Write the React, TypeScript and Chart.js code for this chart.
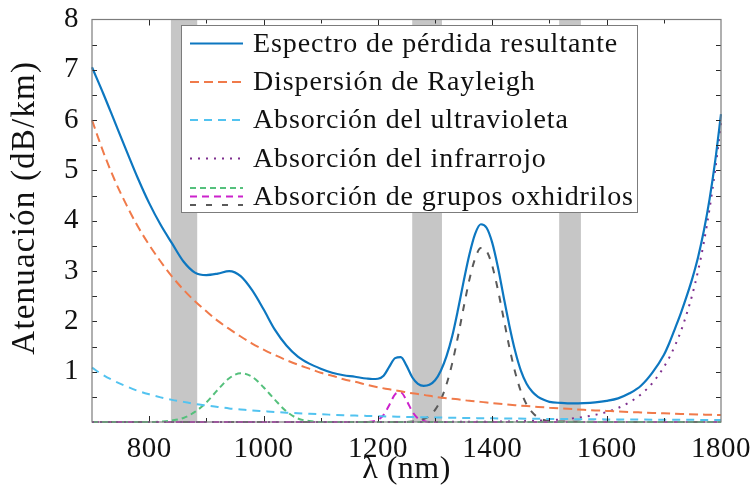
import React, { useEffect, useRef } from 'react';
import { Chart, registerables } from 'chart.js';

Chart.register(...registerables);

const FONT = '"Liberation Serif", "DejaVu Serif", serif';

// Wavelength grid (nm) used by the smooth components
const lambda20 = [700,720,740,760,780,800,820,840,860,880,900,920,940,960,980,1000,1020,1040,1060,1080,1100,1120,1140,1160,1180,1200,1220,1240,1260,1280,1300,1320,1340,1360,1380,1400,1420,1440,1460,1480,1500,1520,1540,1560,1580,1600,1620,1640,1660,1680,1700,1720,1740,1760,1780,1800];

const rayleigh = [6.00,5.36,4.80,4.32,3.89,3.52,3.19,2.89,2.63,2.40,2.20,2.01,1.85,1.70,1.56,1.44,1.33,1.23,1.14,1.06,0.98,0.92,0.85,0.80,0.74,0.69,0.65,0.61,0.57,0.54,0.50,0.47,0.45,0.42,0.40,0.375,0.354,0.335,0.317,0.300,0.285,0.270,0.256,0.243,0.231,0.220,0.209,0.199,0.190,0.181,0.172,0.165,0.157,0.150,0.144,0.137];

const ultraviolet = [1.08,0.93,0.81,0.71,0.62,0.55,0.49,0.44,0.40,0.36,0.33,0.30,0.27,0.25,0.23,0.215,0.200,0.186,0.174,0.163,0.153,0.144,0.135,0.128,0.121,0.115,0.109,0.104,0.099,0.094,0.090,0.086,0.083,0.079,0.076,0.073,0.071,0.068,0.066,0.063,0.061,0.059,0.057,0.056,0.054,0.052,0.051,0.049,0.048,0.047,0.046,0.044,0.043,0.042,0.041,0.040];

const irLambda = [700,1300,1400,1440,1480,1500,1520,1540,1560,1580,1600,1620,1640,1660,1680,1700,1710,1720,1730,1740,1750,1760,1770,1780,1790,1800];
const infrared = [0,0.002,0.007,0.013,0.026,0.036,0.051,0.072,0.101,0.141,0.199,0.279,0.392,0.551,0.774,1.09,1.29,1.53,1.81,2.15,2.54,3.01,3.57,4.24,5.02,5.95];

const ohGreenLambda = [700,800,820,840,860,880,900,920,940,960,980,1000,1020,1040,1060,1080,1100,1800];
const ohGreen = [0,0,0.01,0.03,0.08,0.20,0.39,0.64,0.87,0.97,0.90,0.69,0.44,0.21,0.07,0.02,0,0];

const ohMagentaLambda = [700,1180,1190,1200,1210,1220,1230,1240,1250,1260,1270,1280,1290,1800];
const ohMagenta = [0,0,0.01,0.04,0.14,0.34,0.55,0.59,0.43,0.21,0.07,0.02,0,0];

const ohGrayLambda = [700,1250,1260,1270,1280,1290,1300,1310,1320,1330,1340,1350,1360,1370,1380,1390,1400,1410,1420,1430,1440,1450,1460,1470,1480,1490,1500,1510,1800];
const ohGray = [0,0,0.01,0.03,0.06,0.12,0.24,0.44,0.75,1.17,1.70,2.28,2.83,3.25,3.46,3.40,3.10,2.62,2.05,1.48,0.99,0.61,0.35,0.19,0.09,0.04,0.02,0.01,0];

const totalLambda = [700,720,740,760,780,800,820,840,860,880,900,920,940,960,980,1000,1020,1040,1060,1080,1100,1120,1140,1160,
  1170,1180,1190,1200,1210,1220,1230,1240,1250,1260,1270,1280,1290,1300,1310,1320,1330,1340,1350,1360,1370,1380,1390,1400,1410,1420,1430,1440,1450,1460,1470,1480,1490,1500,
  1520,1540,1560,1580,1600,1620,1640,1660,1680,1700,
  1710,1720,1730,1740,1750,1760,1770,1780,1790,1800];
const total = [7.05,6.52,5.96,5.40,4.85,4.35,3.92,3.55,3.19,2.97,2.92,2.95,3.00,2.90,2.62,2.24,1.83,1.52,1.30,1.16,1.06,0.98,0.93,0.90,
  0.88,0.865,0.855,0.86,0.92,1.10,1.27,1.29,1.12,0.89,0.76,0.72,0.74,0.83,1.02,1.31,1.71,2.23,2.80,3.33,3.74,3.93,3.86,3.56,3.07,2.48,1.91,1.41,1.02,0.76,0.60,0.50,0.44,0.40,
  0.38,0.37,0.375,0.39,0.42,0.47,0.57,0.72,0.98,1.33,
  1.58,1.87,2.17,2.50,2.86,3.28,3.80,4.43,5.20,6.12];

// Shaded transmission windows (nm)
const windowStarts = [838, 1260, 1517];
const windowEnds = [884, 1312, 1555];

const xLabelTicks = [800, 1000, 1200, 1400, 1600, 1800];
const xMarkTicks = [800, 900, 1000, 1100, 1200, 1300, 1400, 1500, 1600, 1700];
const yLabelTicks = [1, 2, 3, 4, 5, 6, 7, 8];
const yMarkTicks = [0.5, 1, 1.5, 2, 2.5, 3, 3.5, 4, 4.5, 5, 5.5, 6, 6.5, 7, 7.5];

const yTitle = 'Atenuación (dB/km)';
const xTitle = 'λ (nm)';

const legendLabels = [
  'Espectro de pérdida resultante',
  'Dispersión de Rayleigh',
  'Absorción del ultravioleta',
  'Absorción del infrarrojo',
  'Absorción de grupos oxhidrilos',
];

const COLORS = {
  total: '#0d77c0',
  rayleigh: '#f07a4a',
  uv: '#52c3f0',
  ir: '#7e2f8e',
  green: '#55c07c',
  magenta: '#cc22cc',
  gray: '#5a5a5a',
};

const pts = (xs: number[], ys: number[]) => xs.map((x, i) => ({ x, y: ys[i] }));

const spacingPlugin = {
  id: 'spacing',
  beforeDraw(chart: any) { chart.ctx.letterSpacing = '0.5px'; },
  afterDraw(chart: any) { chart.ctx.letterSpacing = '0px'; },
};

const bandsPlugin = {
  id: 'bands',
  beforeDatasetsDraw(chart: any) {
    const { ctx, chartArea: a, scales } = chart;
    const x = scales.x;
    ctx.save();
    ctx.fillStyle = '#c6c6c6';
    windowStarts.forEach((s, i) => {
      const x0 = x.getPixelForValue(s);
      const x1 = x.getPixelForValue(windowEnds[i]);
      ctx.fillRect(x0, a.top, x1 - x0, a.bottom - a.top);
    });
    ctx.restore();
  },
};

const framePlugin = {
  id: 'frame',
  afterDatasetsDraw(chart: any) {
    const { ctx, chartArea: a, scales } = chart;
    ctx.save();
    ctx.strokeStyle = '#2a2a2a';
    ctx.lineWidth = 1;
    ctx.beginPath();
    xMarkTicks.forEach((v) => {
      const px = Math.round(scales.x.getPixelForValue(v)) + 0.5;
      const len = v % 200 === 0 ? 6 : 4;
      ctx.moveTo(px, a.bottom);
      ctx.lineTo(px, a.bottom - len);
      ctx.moveTo(px, a.top);
      ctx.lineTo(px, a.top + len);
    });
    yMarkTicks.forEach((v) => {
      const py = Math.round(scales.y.getPixelForValue(v)) + 0.5;
      ctx.moveTo(a.left, py);
      ctx.lineTo(a.left + 5, py);
      ctx.moveTo(a.right, py);
      ctx.lineTo(a.right - 5, py);
    });
    ctx.stroke();
    ctx.strokeStyle = '#7c7c7c';
    ctx.lineWidth = 1.2;
    ctx.strokeRect(a.left, a.top, a.right - a.left, a.bottom - a.top);

    // y axis title
    ctx.fillStyle = '#111111';
    ctx.font = `33px ${FONT}`;
    ctx.letterSpacing = '1.2px';
    ctx.textAlign = 'center';
    ctx.textBaseline = 'middle';
    ctx.translate(25, (a.top + a.bottom) / 2 - 13);
    ctx.rotate(-Math.PI / 2);
    ctx.fillText(yTitle, 0, 0);
    ctx.restore();
  },
};

const legendPlugin = {
  id: 'customLegend',
  afterDraw(chart: any) {
    const { ctx } = chart;
    const bx = 181, by = 25, bw = 456, bh = 187;
    const rowY = [43.5, 82, 120, 158.5, 196.5];
    const lx0 = 190, lx1 = 243, tx = 253;
    ctx.save();
    ctx.fillStyle = '#ffffff';
    ctx.fillRect(bx, by, bw, bh);
    ctx.strokeStyle = '#7c7c7c';
    ctx.lineWidth = 1;
    ctx.strokeRect(bx + 0.5, by + 0.5, bw, bh);

    const line = (y: number, color: string, dash: number[], w: number) => {
      ctx.beginPath();
      ctx.strokeStyle = color;
      ctx.lineWidth = w;
      ctx.setLineDash(dash);
      ctx.moveTo(lx0, y);
      ctx.lineTo(lx1, y);
      ctx.stroke();
    };
    line(rowY[0], COLORS.total, [], 2);
    line(rowY[1], COLORS.rayleigh, [9, 5], 2);
    line(rowY[2], COLORS.uv, [8, 6], 2);
    line(rowY[3], COLORS.ir, [2, 6], 2);
    line(rowY[4] - 8.5, COLORS.green, [6, 4], 2);
    line(rowY[4], COLORS.magenta, [7, 5], 2);
    line(rowY[4] + 8.5, COLORS.gray, [6, 10], 2);
    ctx.setLineDash([]);

    ctx.fillStyle = '#111111';
    ctx.font = `28px ${FONT}`;
    ctx.letterSpacing = '0.9px';
    ctx.textBaseline = 'middle';
    ctx.textAlign = 'left';
    legendLabels.forEach((t, i) => ctx.fillText(t, tx, rowY[i] + 1));
    ctx.restore();
  },
};

export default function App() {
  const canvasRef = useRef<HTMLCanvasElement | null>(null);

  useEffect(() => {
    const canvas = canvasRef.current;
    if (!canvas) return;
    const common = { pointRadius: 0, fill: false, cubicInterpolationMode: 'monotone' as const, clip: 3 };
    const chart = new Chart(canvas, {
      type: 'line',
      data: {
        datasets: [
          { ...common, label: legendLabels[0], data: pts(totalLambda, total), borderColor: COLORS.total, borderWidth: 2.2 },
          { ...common, label: legendLabels[1], data: pts(lambda20, rayleigh), borderColor: COLORS.rayleigh, borderWidth: 2, borderDash: [9, 5] },
          { ...common, label: legendLabels[2], data: pts(lambda20, ultraviolet), borderColor: COLORS.uv, borderWidth: 2, borderDash: [8, 6] },
          { ...common, label: legendLabels[3], data: pts(irLambda, infrared), borderColor: COLORS.ir, borderWidth: 2, borderDash: [2, 6] },
          { ...common, label: legendLabels[4], data: pts(ohGreenLambda, ohGreen), borderColor: COLORS.green, borderWidth: 2, borderDash: [6, 4] },
          { ...common, label: 'OH 1240', data: pts(ohMagentaLambda, ohMagenta), borderColor: COLORS.magenta, borderWidth: 2, borderDash: [7, 5] },
          { ...common, label: 'OH 1383', data: pts(ohGrayLambda, ohGray), borderColor: COLORS.gray, borderWidth: 2, borderDash: [7, 8] },
        ],
      },
      options: {
        responsive: false,
        animation: false,
        events: [],
        layout: { padding: { top: 15, right: 33, left: 0, bottom: 0 } },
        plugins: { legend: { display: false }, tooltip: { enabled: false } },
        scales: {
          x: {
            type: 'linear',
            min: 700,
            max: 1800,
            grid: { display: false },
            border: { display: false },
            afterBuildTicks: (s: any) => { s.ticks = xLabelTicks.map((v) => ({ value: v })); },
            afterFit: (s: any) => { s.height = 69; },
            ticks: {
              color: '#111',
              padding: 5,
              maxRotation: 0,
              callback: (v: any) => String(v),
              font: { family: FONT, size: 29, lineHeight: 1.0 },
            },
            title: {
              display: true,
              text: xTitle,
              color: '#111',
              font: { family: FONT, size: 32, lineHeight: 1.0 },
              padding: { top: 0, bottom: 5 },
            },
          },
          y: {
            type: 'linear',
            min: 0,
            max: 8,
            grid: { display: false },
            border: { display: false },
            afterBuildTicks: (s: any) => { s.ticks = yLabelTicks.map((v) => ({ value: v })); },
            afterFit: (s: any) => { s.width = 92; },
            ticks: {
              color: '#111',
              padding: 5,
              callback: (v: any) => String(v),
              font: { family: FONT, size: 29, lineHeight: 1.0 },
            },
            title: { display: false },
          },
        },
      },
      plugins: [spacingPlugin, bandsPlugin, framePlugin, legendPlugin],
    });
    return () => chart.destroy();
  }, []);

  return (
    <div style={{ position: 'absolute', left: 0, top: 0, width: 755, height: 491, background: '#fff' }}>
      <canvas ref={canvasRef} width={755} height={491} />
    </div>
  );
}
